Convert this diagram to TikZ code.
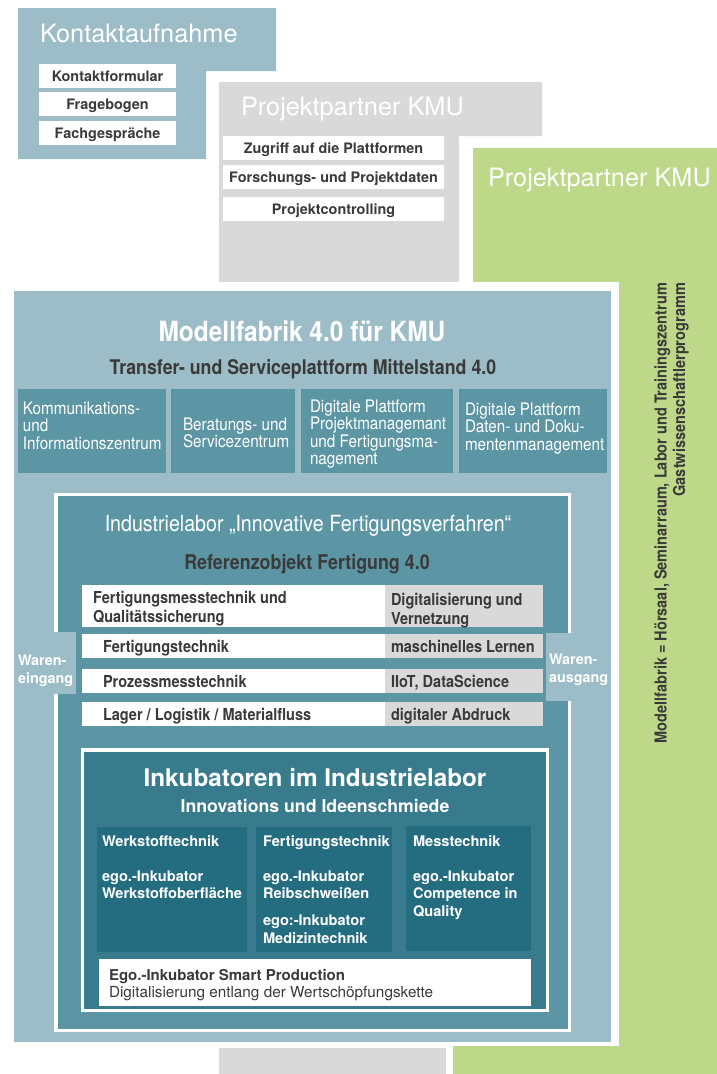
\documentclass[tikz,border=0pt]{standalone}
\usepackage{fontspec}
\setmainfont{TeX Gyre Heros}
\newfontfamily\narrowfont[FakeStretch=0.88]{TeX Gyre Heros}
\definecolor{skyblue}{HTML}{9CBDC7}
\definecolor{paleg}{HTML}{D9D9D9}
\definecolor{leaf}{HTML}{BDD888}
\definecolor{tealm}{HTML}{5C96A4}
\definecolor{teald}{HTML}{387B8D}
\definecolor{tealdd}{HTML}{246C80}
\definecolor{ink}{HTML}{3A3A3A}
\newcommand\fsz[2]{\fontsize{#1}{#2}\selectfont}
\begin{document}
\begin{tikzpicture}[x=1pt,y=-1pt,
  every node/.style={inner sep=0pt,outer sep=0pt},
  box/.style={anchor=north west,draw=none,fill=#1},
  bigtitle/.style={anchor=base west,font=\fsz{25.3}{30},text=white},
  listitem/.style={box=white,font=\fsz{14.4}{17}\bfseries,text=ink,
    text height=10.4pt,text depth=0pt,minimum height=24pt},
  celltext/.style={anchor=west,font=\narrowfont\fsz{16.5}{19}\bfseries,text=ink,
    text height=11.8pt,text depth=0pt},
  cellmulti/.style={anchor=north west,align=left,font=\narrowfont\fsz{16.5}{19}\bfseries,text=ink},
  unittext/.style={anchor=north west,align=left,font=\narrowfont\fsz{17.3}{17.5},text=white},
  warentext/.style={anchor=north west,align=left,font=\fsz{14.4}{18}\bfseries,text=white},
  incutext/.style={anchor=north west,align=left,font=\fsz{14.6}{17.5}\bfseries,text=white}
]
\useasboundingbox (0,0) rectangle (717,1074);

% --- Kontaktaufnahme ---
\fill[skyblue] (18,8) -- (276,8) -- (276,71) -- (206,71) -- (206,159) -- (18,159) -- cycle;
\node[bigtitle] (kontakt) at (40,42) {Kontaktaufnahme};
\node[listitem,minimum width=137pt] (k1) at (39,64) {Kontaktformular};
\node[listitem,minimum width=137pt] (k2) at (39,92) {Fragebogen};
\node[listitem,minimum width=137pt] (k3) at (39,121) {Fachgespräche};

% --- Projektpartner (grey) ---
\fill[paleg] (219,82) -- (542,82) -- (542,136) -- (459,136) -- (459,282) -- (219,282) -- cycle;
\node[bigtitle] (ppgrey) at (241,115) {Projektpartner KMU};
\node[listitem,minimum width=221pt] (p1) at (223,136) {Zugriff auf die Plattformen};
\node[listitem,minimum width=221pt] (p2) at (223,165) {Forschungs- und Projektdaten};
\node[listitem,minimum width=221pt] (p3) at (223,197) {Projektcontrolling};

% --- Projektpartner (green) ---
\fill[leaf] (473,148) -- (717,148) -- (717,1074) -- (453,1074) -- (453,282) -- (473,282) -- cycle;
\node[bigtitle] (ppgreen) at (488,186) {Projektpartner KMU};
\node[rotate=90,anchor=east,align=right,font=\narrowfont\fsz{16.5}{18.5}\bfseries,text=ink] (legend)
  at (671.5,283) {Modellfabrik = Hörsaal, Seminarraum, Labor und Trainingszentrum\\Gastwissenschaftlerprogramm};

% --- grey strip at the foot ---
\fill[paleg] (219,1048) rectangle (446,1074);

% --- Modellfabrik ---
\fill[white] (6,282) rectangle (619,1046);
\fill[skyblue] (14,291) rectangle (611,1042);
\node[anchor=base,font=\narrowfont\fsz{27.8}{32}\bfseries,text=white] (mf) at (302,341.5) {Modellfabrik 4.0 für KMU};
\node[anchor=base,font=\narrowfont\fsz{20.2}{24}\bfseries,text=ink] (tsp) at (303,374) {Transfer- und Serviceplattform Mittelstand 4.0};

\node[box=tealm,minimum width=148pt,minimum height=84pt] (c1) at (18,389) {};
\node[box=tealm,minimum width=124pt,minimum height=84pt] (c2) at (171,389) {};
\node[box=tealm,minimum width=152pt,minimum height=84pt] (c3) at (301,389) {};
\node[box=tealm,minimum width=148pt,minimum height=84pt] (c4) at (459,389) {};
\node[unittext] (c1t) at (23,401.8) {Kommunikations-\\und\\Informationszentrum};
\node[unittext] (c2t) at (183,417.8) {Beratungs- und\\Servicezentrum};
\node[unittext] (c3t) at (310,399.8) {Digitale Plattform\\Projektmanagemant\\und Fertigungsma-\\nagement};
\node[unittext] (c4t) at (465,402.8) {Digitale Plattform\\Daten- und Doku-\\mentenmanagement};

% --- Industrielabor ---
\fill[white] (54,493) rectangle (571,1032);
\fill[tealm] (58,496) rectangle (568,1029);
\node[anchor=base,font=\narrowfont\fsz{22.3}{26},text=white] (il) at (308,531) {Industrielabor „Innovative Fertigungsverfahren“};
\node[anchor=base,font=\narrowfont\fsz{20.3}{24}\bfseries,text=ink] (ref) at (307,569) {Referenzobjekt Fertigung 4.0};

\fill[skyblue] (14,632) rectangle (76,694);
\fill[skyblue] (546,633) rectangle (611,701);
\node[warentext] (win) at (18,655) {Waren-\\eingang};
\node[warentext] (wout) at (549,654) {Waren-\\ausgang};

% rows: white cell + grey cell
\node[box=white,minimum width=303pt,minimum height=42pt] (r1a) at (82,585) {};
\node[box=paleg,minimum width=158pt,minimum height=42pt] (r1b) at (385,585) {};
\node[box=white,minimum width=303pt,minimum height=24pt] (r2a) at (82,634) {};
\node[box=paleg,minimum width=158pt,minimum height=24pt] (r2b) at (385,634) {};
\node[box=white,minimum width=303pt,minimum height=24pt] (r3a) at (82,669) {};
\node[box=paleg,minimum width=158pt,minimum height=24pt] (r3b) at (385,669) {};
\node[box=white,minimum width=303pt,minimum height=24pt] (r4a) at (82,702) {};
\node[box=paleg,minimum width=158pt,minimum height=24pt] (r4b) at (385,702) {};
\node[cellmulti] (r1at) at (93,591.1) {Fertigungsmesstechnik und\\Qualitätssicherung};
\node[cellmulti] (r1bt) at (391,593.1) {Digitalisierung und\\Vernetzung};
\node[celltext] (r2at) at (103,647) {Fertigungstechnik};
\node[celltext] (r2bt) at (391,647) {maschinelles Lernen};
\node[celltext] (r3at) at (103,682) {Prozessmesstechnik};
\node[celltext] (r3bt) at (391,682) {IIoT, DataScience};
\node[celltext] (r4at) at (103,715) {Lager / Logistik / Materialfluss};
\node[celltext] (r4bt) at (391,715) {digitaler Abdruck};

% --- Inkubatoren ---
\fill[white] (81,748) rectangle (549,1012);
\fill[teald] (84,752) rectangle (546,1009);
\node[anchor=base,font=\fsz{24.3}{29}\bfseries,text=white] (ink1) at (315,786) {Inkubatoren im Industrielabor};
\node[anchor=base,font=\fsz{17.7}{21}\bfseries,text=white] (ink2) at (315,812) {Innovations und Ideenschmiede};

\node[box=tealdd,minimum width=150pt,minimum height=125pt] (ia) at (97,827) {};
\node[box=tealdd,minimum width=136pt,minimum height=125pt] (ib) at (256,827) {};
\node[box=tealdd,minimum width=125pt,minimum height=125pt] (ic) at (406,826) {};
\node[incutext] (iat) at (102,835.5) {Werkstofftechnik\\[17.5pt]ego.-Inkubator\\Werkstoffoberfläche};
\node[incutext] (ibt) at (263,835.5) {Fertigungstechnik\\[17.5pt]ego.-Inkubator\\Reibschweißen\\[9.5pt]ego:-Inkubator\\Medizintechnik};
\node[incutext] (ict) at (413,835.5) {Messtechnik\\[17.5pt]ego.-Inkubator\\Competence in\\Quality};

\node[box=white,minimum width=432pt,minimum height=47pt] (smart) at (99,959) {};
\node[anchor=north west,align=left,font=\fsz{15}{17},text=ink] (smartt) at (109,969.5)
  {\textbf{Ego.-Inkubator Smart Production}\\\fsz{15.3}{17}Digitalisierung entlang der Wertschöpfungskette};
\end{tikzpicture}
\end{document}
